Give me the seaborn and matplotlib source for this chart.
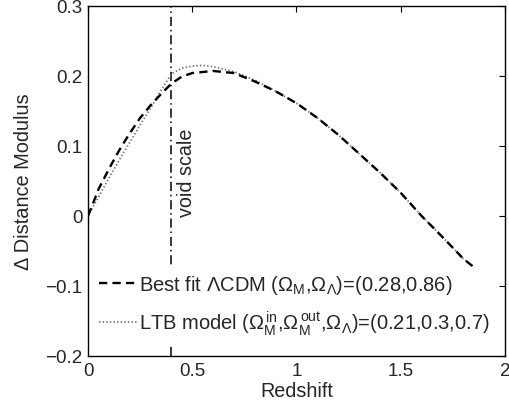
import matplotlib
matplotlib.use("Agg")
import matplotlib.pyplot as plt
import seaborn as sns
import pandas as pd

# ---- data ----
z_lcdm = [0, 0.02, 0.05, 0.1, 0.15, 0.2, 0.25, 0.3, 0.35, 0.4, 0.45, 0.5, 0.6,
          0.7, 0.8, 0.9, 1.0, 1.1, 1.2, 1.3, 1.4, 1.5, 1.6, 1.7, 1.8, 1.85]
dmu_lcdm = [0, 0.015, 0.038, 0.067, 0.094, 0.118, 0.14, 0.158, 0.174, 0.189, 0.199,
            0.204, 0.207, 0.204, 0.192, 0.178, 0.161, 0.14, 0.116, 0.089, 0.062,
            0.033, 0.0, -0.03, -0.061, -0.073]
z_ltb = [0, 0.05, 0.1, 0.15, 0.2, 0.25, 0.3, 0.35, 0.4, 0.45, 0.5, 0.55, 0.6,
         0.7, 0.8, 0.9, 1.0, 1.1, 1.2, 1.3, 1.4, 1.5, 1.6, 1.7, 1.8, 1.85]
dmu_ltb = [0, 0.027, 0.054, 0.08, 0.105, 0.13, 0.154, 0.179, 0.203, 0.211,
           0.214, 0.215, 0.213, 0.206, 0.194, 0.178, 0.161, 0.14, 0.116, 0.089,
           0.062, 0.033, 0.0, -0.03, -0.061, -0.073]
void_scale_z = 0.4
x_ticks = [0, 0.5, 1, 1.5, 2]
y_ticks = [-0.2, -0.1, 0, 0.1, 0.2, 0.3]
label_lcdm = r'Best fit ΛCDM ($\Omega_{\mathrm{M}}$,$\Omega_{\Lambda}$)=(0.28,0.86)'
label_ltb = (r'LTB model ($\Omega^{\,\mathrm{in}}_{\mathrm{M}}$,$\Omega^{\,\mathrm{out}}_{\mathrm{M}}$,'
             r'$\Omega_{\Lambda}$)=(0.21,0.3,0.7)')

sns.set_theme(style="white")
plt.rcParams['font.family'] = ['Liberation Sans', 'DejaVu Sans']
plt.rcParams['mathtext.fontset'] = 'custom'
plt.rcParams['mathtext.rm'] = 'Liberation Sans'
plt.rcParams['mathtext.it'] = 'Liberation Sans:italic'
plt.rcParams['mathtext.bf'] = 'Liberation Sans:bold'

FS = 13.5
fig = plt.figure(figsize=(5.09, 4.02), dpi=100)
ax = fig.add_axes([0.173, 0.112, 0.819, 0.871])

df1 = pd.DataFrame({"z": z_lcdm, "d": dmu_lcdm})
df2 = pd.DataFrame({"z": z_ltb, "d": dmu_ltb})
sns.lineplot(data=df1, x="z", y="d", ax=ax, color="black", lw=1.7,
             linestyle=(0, (3.5, 2.2)), label=label_lcdm, zorder=3)
sns.lineplot(data=df2, x="z", y="d", ax=ax, color="#777777", lw=1.3,
             linestyle=(0, (0.8, 1.2)), label=label_ltb, zorder=2)
ax.axvline(void_scale_z, color="black", lw=1.1, linestyle=(0, (6, 2.5, 1, 2.5)), zorder=1)
ax.text(0.425, 0.0, "void scale", rotation=90, ha="left", va="bottom", fontsize=14.2)

ax.set_xlim(0, 2)
ax.set_ylim(-0.2, 0.3)
ax.set_xticks(x_ticks)
ax.set_xticklabels(["0", "0.5", "1", "1.5", "2"])
ax.set_yticks(y_ticks)
ax.set_yticklabels(["\u22120.2", "\u22120.1", "0", "0.1", "0.2", "0.3"])
ax.tick_params(direction="in", length=4, width=0.8, top=True, right=True,
               labelsize=FS, pad=4, color="black")
ax.set_xlabel("Redshift", fontsize=14.2, labelpad=1.5)
ax.set_ylabel("Δ Distance Modulus", fontsize=14.4, labelpad=9)
for s in ax.spines.values():
    s.set_color("black")
    s.set_linewidth(1.0)

leg = ax.legend(loc="lower left", bbox_to_anchor=(0.012, 0.037), fontsize=14.5,
                frameon=True, facecolor="white", edgecolor="none", framealpha=1,
                handlelength=1.9, handletextpad=0.1, labelspacing=0.6,
                borderpad=0.3, borderaxespad=0.0)
leg.set_zorder(5)

fig.savefig("out.png", dpi=100)
